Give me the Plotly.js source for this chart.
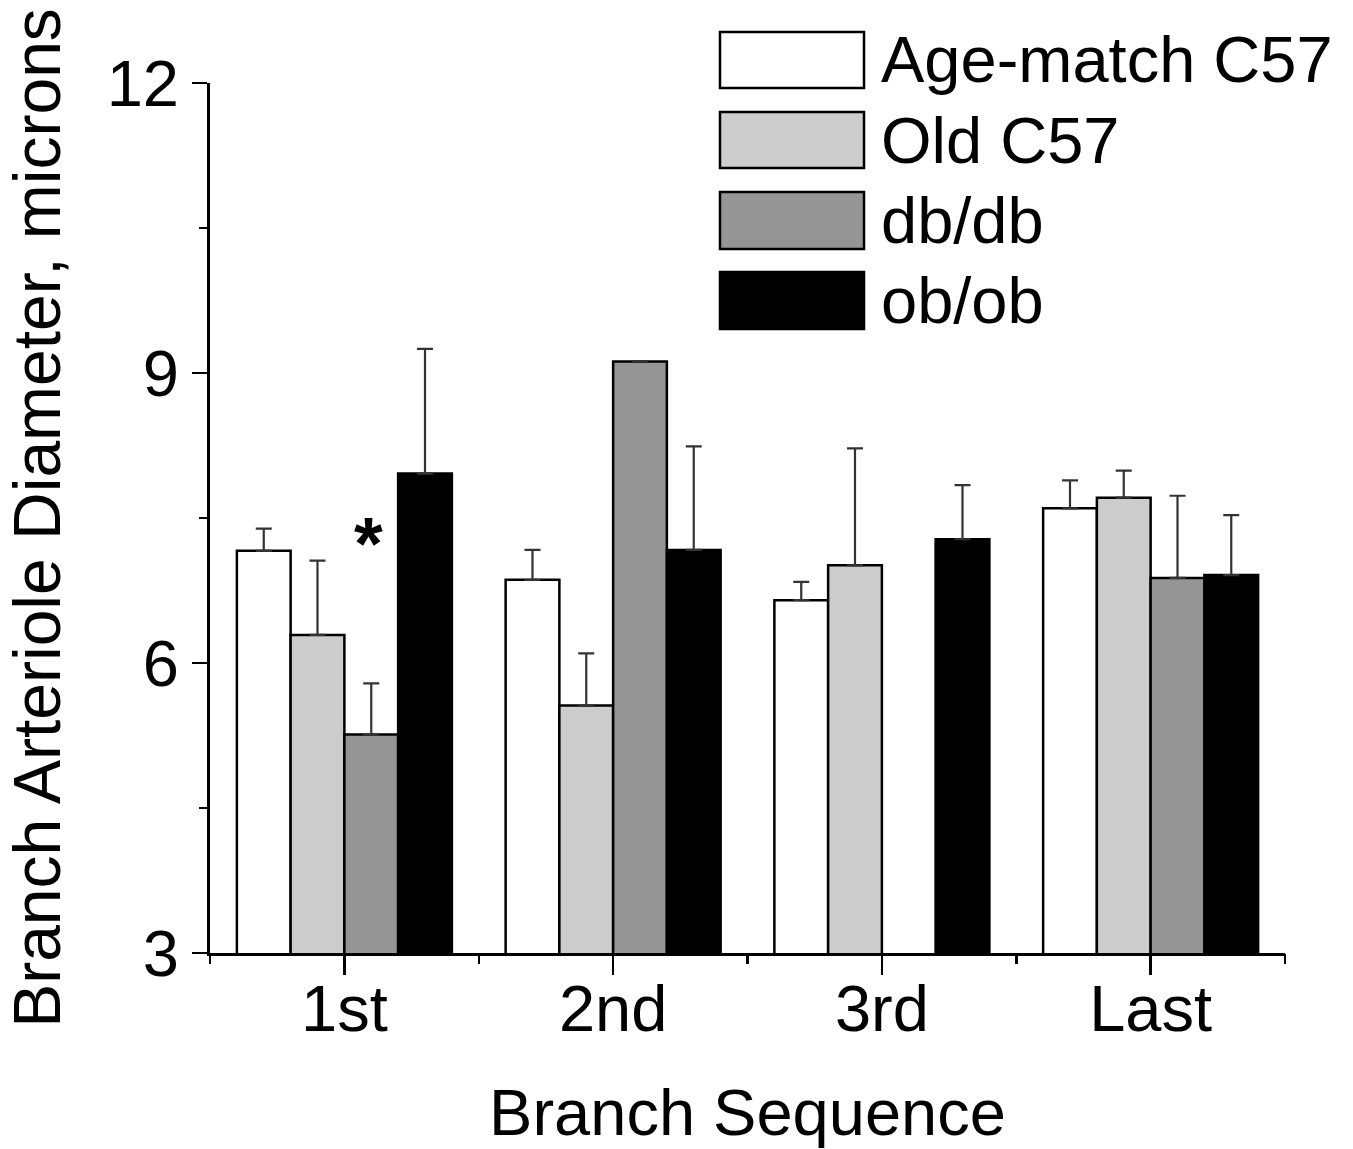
<!DOCTYPE html>
<html>
<head>
<meta charset="utf-8">
<script src="https://cdn.plot.ly/plotly-3.0.1.min.js"></script>
<style>html,body{margin:0;padding:0;background:#fff;}#chart{width:1353px;height:1149px;}</style>
</head>
<body>
<div id="chart"></div>
<script>
// ---- data ----
const categories = ["1st", "2nd", "3rd", "Last"];
const seriesNames = ["Age-match C57", "Old C57", "db/db", "ob/ob"];
const ageMatch    = [7.16, 6.86, 6.65, 7.60];
const ageMatchErr = [0.23, 0.31, 0.19, 0.29];
const oldC57      = [6.29, 5.56, 7.01, 7.71];
const oldC57Err   = [0.77, 0.54, 1.21, 0.28];
const dbdb        = [5.26, 9.12, null, 6.88];
const dbdbErr     = [0.53, null, null, 0.85];
const obob        = [7.96, 7.17, 7.28, 6.91];
const obobErr     = [1.29, 1.07, 0.56, 0.62];
const yTickVals   = [3, 6, 9, 12];

const fills = ["#ffffff", "#cccccc", "#959595", "#000000"];
const values = [ageMatch, oldC57, dbdb, obob];
const errs = [ageMatchErr, oldC57Err, dbdbErr, obobErr];

const FONT = "Liberation Sans, Arial, sans-serif";
const FS = 65;

const traces = values.map((v, i) => ({
  type: "bar",
  name: seriesNames[i],
  x: categories,
  y: v,
  marker: {color: fills[i], line: {color: "#000000", width: 2.5}},
  error_y: {
    type: "data", symmetric: false,
    array: errs[i],
    arrayminus: errs[i].map(e => e == null ? null : 0),
    color: "#333333", thickness: 2.2, width: 8
  },
  showlegend: false,
  hoverinfo: "skip"
}));

// plot area in pixels
const L = 210, R = 1285, T = 83, B = 953;
const px = x => (x - L) / (R - L);
const py = y => (B - y) / (B - T);

const shapes = [];
const annotations = [];
const boxRows = [[32, 88], [112, 168], [192, 249], [272, 329]];
seriesNames.forEach((n, i) => {
  const [y0, y1] = boxRows[i];
  shapes.push({type: "rect", xref: "paper", yref: "paper",
    x0: px(720), x1: px(864), y0: py(y1), y1: py(y0),
    fillcolor: fills[i], line: {color: "#000000", width: 2.5}});
  annotations.push({xref: "paper", yref: "paper", x: px(879), y: py((y0 + y1) / 2),
    xanchor: "left", yanchor: "middle", text: n, showarrow: false,
    font: {family: FONT, size: FS, color: "#000"}});
});
// significance marker above db/db 1st
annotations.push({xref: "x", yref: "y", x: categories[0], y: 7.24, xshift: 24,
  text: "<b>*</b>", showarrow: false, font: {family: FONT, size: 74, color: "#000"}});

const layout = {
  width: 1353, height: 1149,
  margin: {l: L, r: 1353 - R, t: T, b: 1149 - B},
  paper_bgcolor: "#ffffff", plot_bgcolor: "#ffffff",
  barmode: "group", bargap: 0.2, bargroupgap: 0,
  font: {family: FONT, size: FS, color: "#000"},
  xaxis: {
    type: "category", range: [-0.5, 3.5],
    showline: true, linecolor: "#000", linewidth: 3,
    ticks: "outside", ticklen: 19, tickwidth: 2.5, tickcolor: "#000",
    ticklabelstandoff: -22,
    showgrid: false, zeroline: false,
    tickfont: {family: FONT, size: FS},
    title: {text: "Branch Sequence", font: {family: FONT, size: FS}, standoff: 56}
  },
  xaxis2: {
    overlaying: "x", anchor: "y", side: "bottom", range: [-0.5, 3.5],
    tickvals: [-0.5, 0.5, 1.5, 2.5, 3.5], showticklabels: false,
    ticks: "outside", ticklen: 10, tickwidth: 2.5, tickcolor: "#000",
    showline: false, showgrid: false, zeroline: false
  },
  yaxis: {
    range: [3, 12], tickvals: yTickVals,
    showline: true, linecolor: "#000", linewidth: 3,
    ticks: "outside", ticklen: 15, tickwidth: 2.5, tickcolor: "#000",
    minor: {dtick: 1.5, tick0: 3, ticks: "outside", ticklen: 8, tickwidth: 2.5, tickcolor: "#000", showgrid: false},
    showgrid: false, zeroline: false,
    tickfont: {family: FONT, size: FS},
    title: {text: "Branch Arteriole Diameter, microns", font: {family: FONT, size: 66}, standoff: 26}
  },
  shapes: shapes,
  annotations: annotations
};

// invisible trace to activate the boundary-tick axis
traces.push({type: "scatter", x: [-0.5, 3.5], y: [null, null], xaxis: "x2", yaxis: "y",
  mode: "markers", showlegend: false, hoverinfo: "skip"});

Plotly.newPlot("chart", traces, layout, {staticPlot: true});
</script>
</body>
</html>
